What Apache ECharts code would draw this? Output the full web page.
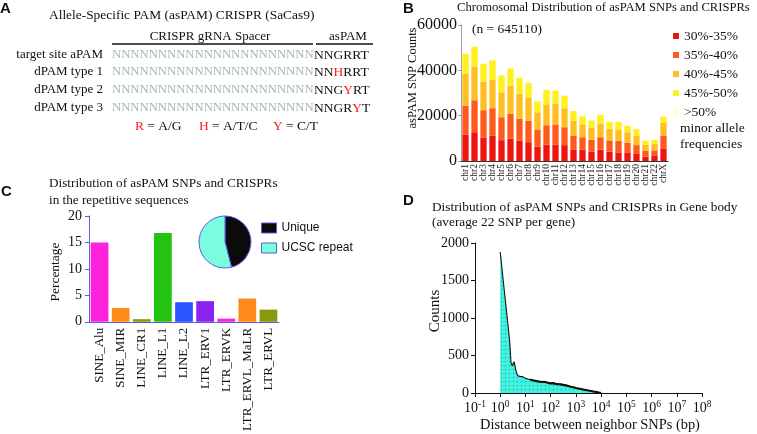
<!DOCTYPE html>
<html>
<head>
<meta charset="utf-8">
<script src="https://cdn.jsdelivr.net/npm/echarts@6/dist/echarts.min.js"></script>
<style>
html, body { margin: 0; padding: 0; background: #fff; }
#chart { width: 757px; height: 434px; }
</style>
</head>
<body>
<div id="chart"></div>
<script>
const serif = '"Liberation Serif", "Times New Roman", serif';
const sans = '"Liberation Sans", Arial, sans-serif';

// panel B - asPAM SNP counts per chromosome, split by minor allele frequency
const chromosomes = ['chr1', 'chr2', 'chr3', 'chr4', 'chr5', 'chr6', 'chr7', 'chr8', 'chr9', 'chr10', 'chr11', 'chr12',
  'chr13', 'chr14', 'chr15', 'chr16', 'chr17', 'chr18', 'chr19', 'chr20', 'chr21', 'chr22', 'chrX'];
const mafNames = ['30%-35%', '35%-40%', '40%-45%', '45%-50%', '>50%'];
const maf30to35 = [11600, 12700, 10400, 11100, 9200, 9900, 8900, 8300, 6300, 7200, 7200, 7000, 5100, 5000, 4200, 5000, 4100, 3800, 3800, 3100, 1900, 2500, 5600];
const maf35to40 = [12800, 14100, 12000, 12200, 10100, 10900, 9800, 9500, 7600, 8600, 8900, 7900, 6000, 5500, 5200, 5500, 5000, 5100, 4200, 3900, 2500, 2200, 5700];
const maf40to45 = [14100, 14900, 12600, 12500, 11000, 12400, 11000, 10100, 7600, 9200, 9200, 8400, 6600, 5700, 5200, 6000, 5100, 5000, 4700, 4300, 2800, 2800, 5500];
const maf45to50 = [8850, 8650, 7850, 8650, 7550, 7650, 7050, 6650, 4850, 6350, 5850, 5550, 4350, 3550, 3350, 3850, 3050, 3350, 2950, 2750, 1750, 1750, 2850];
const mafOver50 = [150, 150, 150, 150, 150, 150, 150, 150, 150, 150, 150, 150, 150, 150, 150, 150, 150, 150, 150, 150, 150, 150, 150];
const countTicks = [0, 20000, 40000, 60000];

// panel C - repeats
const repeatNames = ['SINE_Alu', 'SINE_MIR', 'LINE_CR1', 'LINE_L1', 'LINE_L2', 'LTR_ERV1', 'LTR_ERVK', 'LTR_ERVL_MaLR', 'LTR_ERVL'];
const repeatPct = [15.0, 2.6, 0.5, 16.8, 3.7, 3.9, 0.6, 4.4, 2.3];
const pieNames = ['Unique', 'UCSC repeat'];
const pieValues = [46, 54];

// panel D - distance between neighbour SNPs (bp) and counts
const distBp = [1, 1.26, 1.58, 2, 2.34, 2.69, 2.95, 3.24, 3.55, 3.98, 4.47, 5.01, 5.5, 6.03, 6.6, 7.08, 7.8, 8.32, 9.1, 10,
  11.2, 12.6, 14.1, 15.8, 18.6, 22.4, 26.3, 31.6, 37.2, 44.7, 53.7, 63.1, 79.4, 100, 126, 158, 200, 251, 316, 398, 501, 631,
  794, 1000, 1259, 1585, 1995, 2512, 3162, 3981, 5012, 6310, 7943, 10000];
const snpCounts = [1880, 1560, 1250, 930, 710, 400, 365, 390, 417, 333, 266, 230, 236, 222, 214, 209, 218, 213, 200, 195,
  203, 186, 190, 178, 172, 164, 168, 155, 158, 147, 150, 142, 136, 129, 131, 122, 118, 115, 108, 102, 93, 84,
  76, 67, 60, 53, 46, 40, 33, 27, 20, 14, 7, 0];

const mafColors = ['#ee1510', '#ff5a1e', '#ffbf22', '#fff01e', '#fffbd6'];
const repeatColors = ['#ff22dd', '#ff8a1a', '#8a9a10', '#22c411', '#2a55ff', '#8a22f0', '#ff22dd', '#ff8a1a', '#8a9a10'];
const blueAxis = '#5b5be0';

// dotted fill for panel D
const dots = document.createElement('canvas');
dots.width = 4; dots.height = 4;
const dctx = dots.getContext('2d');
dctx.fillStyle = '#3ff2e0';
dctx.fillRect(0, 0, 4, 4);
dctx.fillStyle = '#2a9a90';
dctx.fillRect(1, 1, 1, 1);

function txt(x, y, text, opt, rot) {
  const style = Object.assign({
    text: text, font: '13px ' + serif, fill: '#111',
    textAlign: 'left', textVerticalAlign: 'middle', verticalAlign: 'middle'
  }, opt || {});
  style.align = style.textAlign;
  const el = { type: 'text', x: x, y: y, style: style };
  if (rot) el.rotation = rot;
  return el;
}
function hline(x1, x2, y) {
  return { type: 'line', shape: { x1: x1, y1: y, x2: x2, y2: y }, style: { stroke: '#111', lineWidth: 1.5 } };
}
const plain = function (v) { return String(v); };

const spacer = 'NNNNNNNNNNNNNNNNNNNNNN';
const pamRich = {
  k: { fill: '#111', font: '13.5px ' + serif },
  r: { fill: '#ff1a1a', font: '13.5px ' + serif }
};
const nStyle = { font: '12.7px ' + serif, fill: '#a2b8b2' };

const graphics = [
  // panel A
  txt(0, 9, 'A', { font: 'bold 15px ' + sans }),
  txt(49, 15, 'Allele-Specific PAM (asPAM) CRISPR (SaCas9)', { font: '13.4px ' + serif }),
  txt(210, 37, 'CRISPR gRNA Spacer', { textAlign: 'center' }),
  txt(348, 37, 'asPAM', { textAlign: 'center' }),
  hline(112, 313, 44),
  hline(316, 373, 44),
  txt(103, 55, 'target site aPAM', { textAlign: 'right' }),
  txt(103, 72, 'dPAM type 1', { textAlign: 'right' }),
  txt(103, 90, 'dPAM type 2', { textAlign: 'right' }),
  txt(103, 108, 'dPAM type 3', { textAlign: 'right' }),
  txt(112, 55, spacer, nStyle),
  txt(112, 72, spacer, nStyle),
  txt(112, 90, spacer, nStyle),
  txt(112, 108, spacer, nStyle),
  txt(314, 55, '{k|NNGRRT}', { rich: pamRich }),
  txt(314, 72, '{k|NN}{r|H}{k|RRT}', { rich: pamRich }),
  txt(314, 90, '{k|NNG}{r|Y}{k|RT}', { rich: pamRich }),
  txt(314, 108, '{k|NNGR}{r|Y}{k|T}', { rich: pamRich }),
  txt(135, 126, '{r|R} {k|= A/G}', { rich: pamRich }),
  txt(199, 126, '{r|H} {k|= A/T/C}', { rich: pamRich }),
  txt(273, 126, '{r|Y} {k|= C/T}', { rich: pamRich }),

  // panel B
  txt(403, 9, 'B', { font: 'bold 15px ' + sans }),
  txt(457, 8, 'Chromosomal Distribution of asPAM SNPs and CRISPRs', { font: '12.6px ' + serif }),
  txt(472, 29, '(n = 645110)', { font: '13.5px ' + serif }),
  txt(413, 78, 'asPAM SNP Counts', { textAlign: 'center', font: '12.5px ' + serif }, Math.PI / 2),
  txt(680, 128, 'minor allele', { font: '13.5px ' + serif }),
  txt(680, 144, 'frequencies', { font: '13.5px ' + serif }),

  // panel C
  txt(1, 192, 'C', { font: 'bold 15px ' + sans }),
  txt(49, 184, 'Distribution of asPAM SNPs and CRISPRs', { font: '13.2px ' + serif }),
  txt(49, 201, 'in the repetitive sequences', { font: '13.2px ' + serif }),
  txt(55, 272, 'Percentage', { textAlign: 'center', font: '13.5px ' + serif }, Math.PI / 2),

  // panel D
  txt(403, 201, 'D', { font: 'bold 15px ' + sans }),
  txt(432, 208, 'Distribution of asPAM SNPs and CRISPRs in Gene body', { font: '13.3px ' + serif }),
  txt(432, 223, '(average 22 SNP per gene)', { font: '13.3px ' + serif }),
  txt(435, 311, 'Counts', { textAlign: 'center', font: '15px ' + serif }, Math.PI / 2),
  txt(590, 425, 'Distance between neighbor SNPs (bp)', { textAlign: 'center', font: '14.4px ' + serif })
];

const mafSeries = [maf30to35, maf35to40, maf40to45, maf45to50, mafOver50].map(function (vals, i) {
  return {
    name: mafNames[i], type: 'bar', stack: 'maf', xAxisIndex: 0, yAxisIndex: 0,
    barWidth: '70%', itemStyle: { color: mafColors[i] }, data: vals
  };
});

// the noisy tail of the histogram looks like a heavier black band
const tailStart = distBp.indexOf(15.8);

const option = {
  animation: false,
  textStyle: { fontFamily: serif, color: '#111' },
  grid: [
    { left: 461, top: 25, width: 207, height: 136 },
    { left: 89, top: 216, width: 190, height: 107 },
    { left: 475, top: 243, width: 227, height: 150 }
  ],
  xAxis: [
    {
      type: 'category', gridIndex: 0, data: chromosomes,
      axisLine: { lineStyle: { color: '#333' } },
      axisTick: { show: false },
      axisLabel: { rotate: 90, interval: 0, fontSize: 9.5, margin: 3, color: '#222' }
    },
    {
      type: 'category', gridIndex: 1, data: repeatNames,
      axisLine: { lineStyle: { color: blueAxis } },
      axisTick: { alignWithLabel: true, length: 4, lineStyle: { color: blueAxis } },
      axisLabel: { rotate: 90, interval: 0, fontSize: 13, margin: 6, color: '#111' }
    },
    {
      type: 'log', gridIndex: 2, logBase: 10, min: 0.1, max: 1e8, interval: 1,
      axisLine: { lineStyle: { color: '#111' } },
      axisTick: { length: 4, lineStyle: { color: '#111' } },
      splitLine: { show: false },
      minorTick: { show: false },
      axisLabel: {
        margin: 6, fontSize: 14, color: '#111',
        formatter: function (v) { return '10{s|' + Math.round(Math.log10(v)) + '}'; },
        rich: { s: { fontSize: 9.5, fontFamily: serif, padding: [0, 0, 8, 0] } }
      }
    }
  ],
  yAxis: [
    {
      type: 'value', gridIndex: 0, min: countTicks[0], max: countTicks[3], interval: countTicks[1],
      axisLine: { show: true, lineStyle: { color: '#a0a0a0' } },
      axisTick: { show: true, length: 3, lineStyle: { color: '#a0a0a0' } },
      splitLine: { show: false },
      axisLabel: { fontSize: 16, margin: 4, color: '#111', formatter: plain }
    },
    {
      type: 'value', gridIndex: 1, min: 0, max: 20, interval: 5,
      axisLine: { show: true, lineStyle: { color: blueAxis } },
      axisTick: { show: true, length: 4, lineStyle: { color: blueAxis } },
      splitLine: { show: false },
      axisLabel: { fontSize: 14, margin: 7, color: '#111' }
    },
    {
      type: 'value', gridIndex: 2, min: 0, max: 2000, interval: 500,
      axisLine: { show: true, lineStyle: { color: '#111' } },
      axisTick: { show: true, length: 4, lineStyle: { color: '#111' } },
      splitLine: { show: false },
      axisLabel: { fontSize: 14, margin: 6, color: '#111', formatter: plain }
    }
  ],
  legend: [
    {
      data: mafNames, orient: 'vertical', left: 673, top: 29, padding: 0,
      icon: 'rect', itemWidth: 6, itemHeight: 6, itemGap: 5,
      textStyle: { fontFamily: serif, fontSize: 13.5, color: '#111', lineHeight: 14 }
    },
    {
      data: pieNames, orient: 'vertical', left: 261, top: 222, padding: 0,
      icon: 'rect', itemWidth: 15, itemHeight: 10, itemGap: 8,
      itemStyle: { borderColor: blueAxis, borderWidth: 1 },
      textStyle: { fontFamily: sans, fontSize: 12, color: '#111' }
    }
  ],
  graphic: { elements: graphics },
  series: mafSeries.concat([
    {
      type: 'bar', xAxisIndex: 1, yAxisIndex: 1, barWidth: '84%',
      data: repeatPct.map(function (v, i) { return { value: v, itemStyle: { color: repeatColors[i] } }; })
    },
    {
      type: 'pie', center: [225, 242], radius: 26, startAngle: 90, clockwise: true,
      label: { show: false }, labelLine: { show: false },
      itemStyle: { borderColor: blueAxis, borderWidth: 1 },
      data: pieNames.map(function (n, i) {
        return { name: n, value: pieValues[i], itemStyle: { color: i === 0 ? '#0b0b0b' : '#7dfde0' } };
      })
    },
    {
      type: 'line', xAxisIndex: 2, yAxisIndex: 2, showSymbol: false,
      lineStyle: { color: '#111', width: 1.1 },
      areaStyle: { color: { image: dots, repeat: 'repeat' }, opacity: 1 },
      data: distBp.map(function (d, i) { return [d, snpCounts[i]]; })
    },
    {
      type: 'line', xAxisIndex: 2, yAxisIndex: 2, showSymbol: false,
      lineStyle: { color: '#111', width: 2.2 },
      data: distBp.slice(tailStart).map(function (d, i) { return [d, snpCounts[tailStart + i]]; })
    }
  ])
};

const chart = echarts.init(document.getElementById('chart'));
chart.setOption(option);
</script>
</body>
</html>
